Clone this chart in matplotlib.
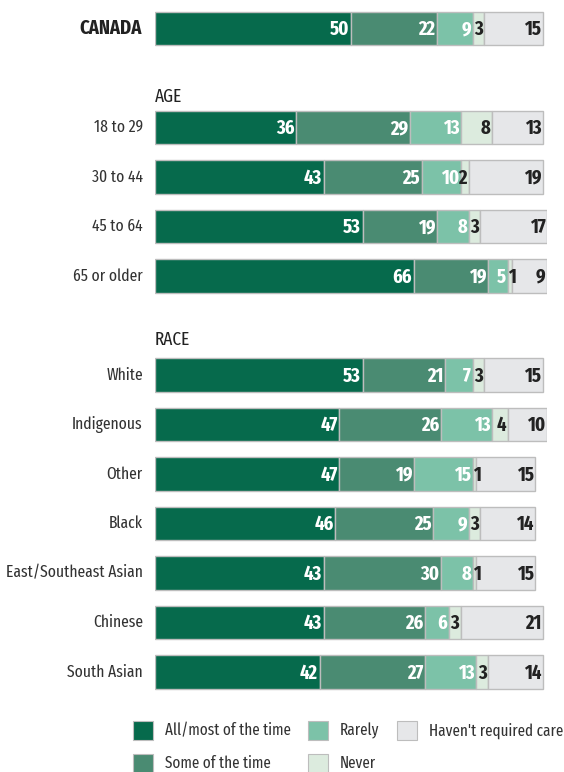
import matplotlib
matplotlib.use("Agg")
import matplotlib.pyplot as plt
from matplotlib.patches import Rectangle

plt.rcParams["font.family"] = ["Fira Sans Extra Condensed", "DejaVu Sans"]

categories = ["All/most of the time", "Some of the time", "Rarely", "Never",
              "Haven't required care"]
colors = ["#066a4c", "#4a8b72", "#7cc2a8", "#dcebde", "#e6e7e9"]
label_colors = ["white", "white", "white", "#222222", "#222222"]

groups = ["CANADA", "18 to 29", "30 to 44", "45 to 64", "65 or older",
          "White", "Indigenous", "Other", "Black", "East/Southeast Asian",
          "Chinese", "South Asian"]
all_most = [50, 36, 43, 53, 66, 53, 47, 47, 46, 43, 43, 42]
some = [22, 29, 25, 19, 19, 21, 26, 19, 25, 30, 26, 27]
rarely = [9, 13, 10, 8, 5, 7, 13, 15, 9, 8, 6, 13]
never = [3, 8, 2, 3, 1, 3, 4, 1, 3, 1, 3, 3]
no_care = [15, 13, 19, 17, 9, 15, 10, 15, 14, 15, 21, 14]

# row slots: CANADA, gap, age rows, gap, race rows
rows = [0, 2, 3, 4, 5, 7, 8, 9, 10, 11, 12, 13]
headers = [("AGE", 1.38), ("RACE", 6.29)]

W, H = 564, 772
fig = plt.figure(figsize=(W / 100, H / 100), dpi=100)
x0, unit = 155, 3.92
row_px, top_px = 49.5, 28.5
ax = fig.add_axes([x0 / W, 0, 100 * unit / W, 1])
ax.set_xlim(0, 100)
ax.set_ylim((H - top_px) / row_px, -top_px / row_px)
ax.axis("off")

series = [all_most, some, rarely, never, no_care]
left = [0] * len(groups)
for k, vals in enumerate(series):
    ax.barh(rows, vals, left=left, height=0.667, color=colors[k],
            edgecolor="#bdbdbd", linewidth=1.0)
    for r, l, v in zip(rows, left, vals):
        if v < 2:
            x, ha = l + 0.1, "left"
        else:
            x, ha = l + v - 0.4, "right"
        ax.text(x, r + 0.02, str(v), ha=ha, va="center",
                color=label_colors[k], fontsize=14.5, fontweight="bold")
    left = [a + b for a, b in zip(left, vals)]

for g, r in zip(groups, rows):
    if g == "CANADA":
        ax.text(-3.3, r, g, ha="right", va="center", fontsize=14.5,
                fontweight="bold", color="#222222")
    else:
        ax.text(-3.1, r, g, ha="right", va="center", fontsize=12.2,
                color="#333333")

for name, r in headers:
    ax.text(0, r, name, ha="left", va="center", fontsize=13.5, color="#222222")

# legend laid out in pixel positions, column-major like the bar order
leg_x = [133, 133, 308, 308, 397]
leg_y = [730.5, 763.5, 730.5, 763.5, 730.5]
for c, name, lx, ly in zip(colors, categories, leg_x, leg_y):
    fig.add_artist(Rectangle((lx / W, 1 - (ly + 9.5) / H), 20 / W, 19 / H,
                             transform=fig.transFigure, facecolor=c,
                             edgecolor="#bdbdbd", linewidth=0.8))
    fig.text((lx + 32) / W, 1 - ly / H, name, ha="left", va="center",
             fontsize=11.8, color="#333333")

fig.savefig("out.png", dpi=100)
